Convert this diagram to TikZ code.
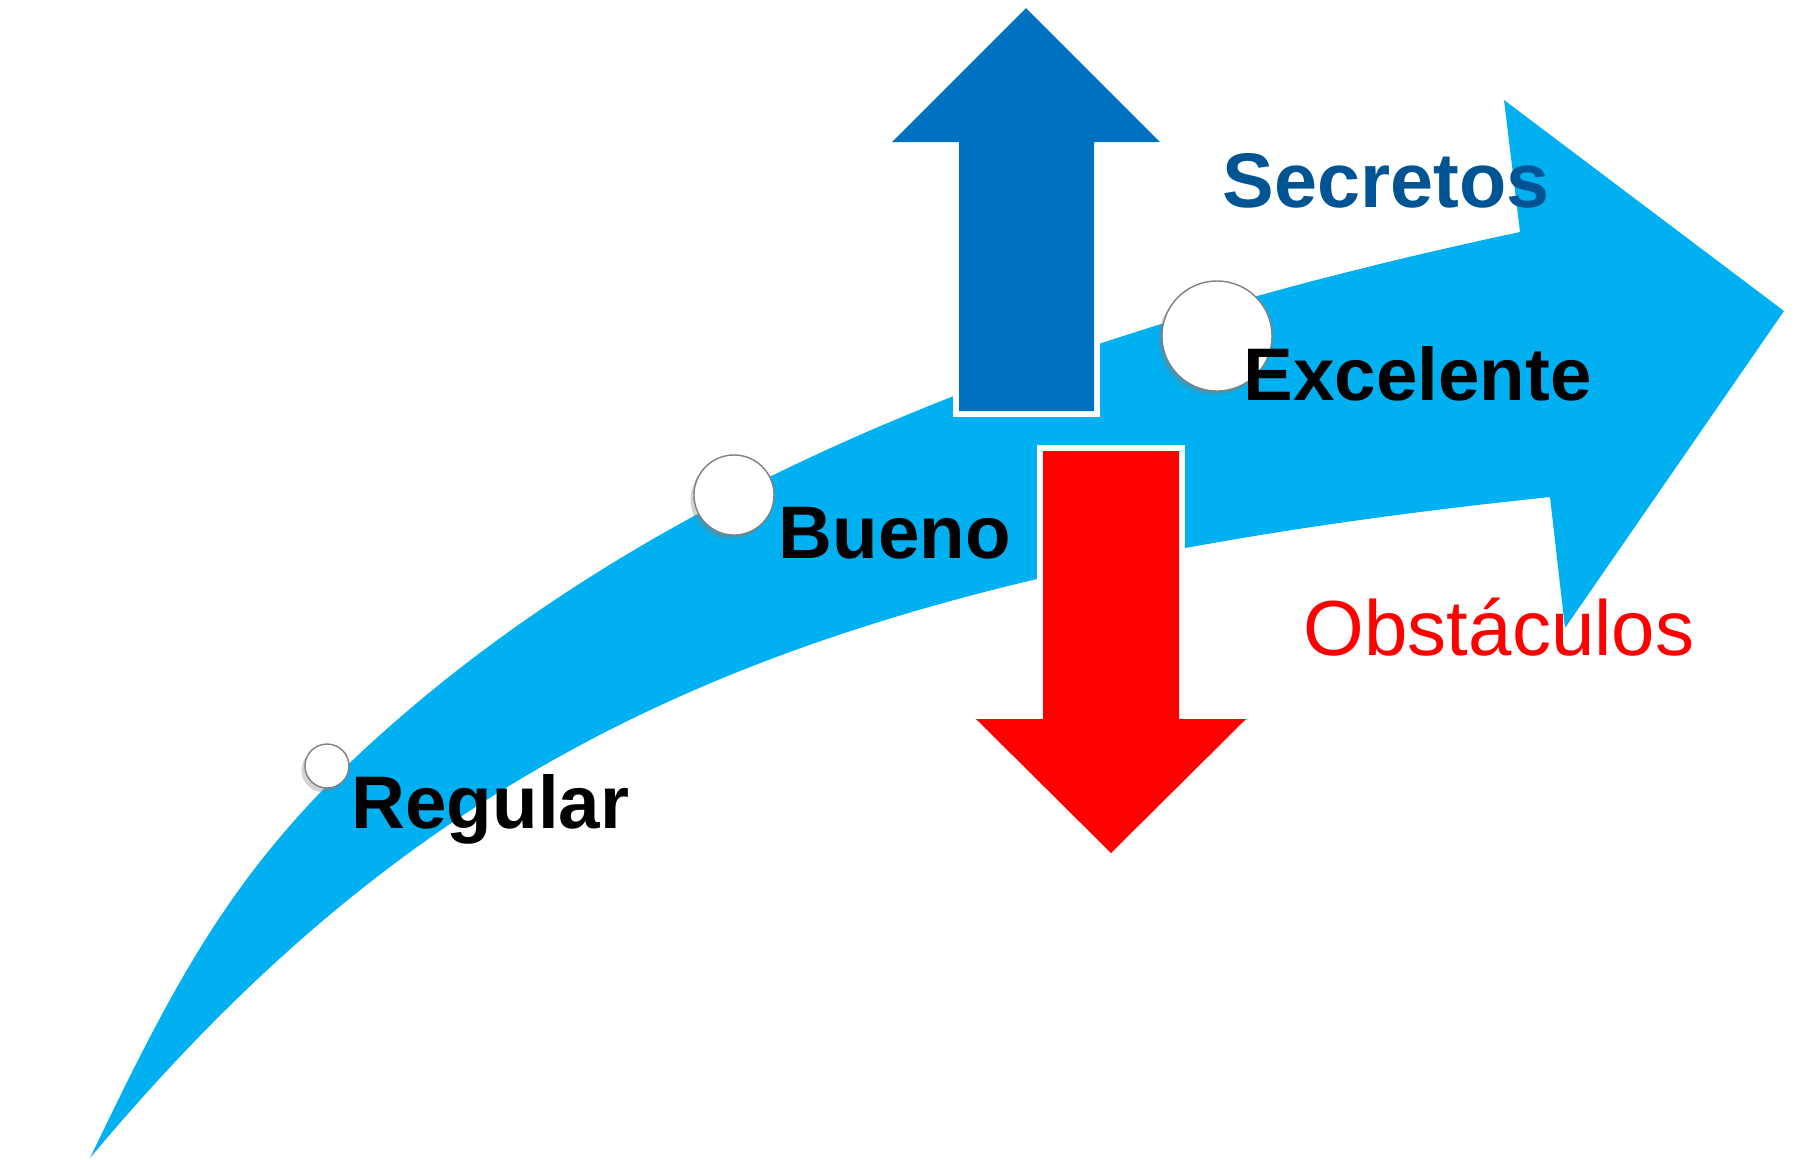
\documentclass[tikz,border=0pt]{standalone}
\usepackage{fontspec}
\setmainfont{Liberation Sans}
\usetikzlibrary{shadows}

\definecolor{roadblue}{RGB}{0,176,240}
\definecolor{upblue}{RGB}{0,112,192}
\definecolor{secretblue}{RGB}{0,84,147}

\begin{document}
\begin{tikzpicture}[x=0.01cm, y=-0.01cm]
    \tikzstyle{stage} = [circle, draw=gray, line width=0.4pt, fill=white, inner sep=0pt, drop shadow={shadow xshift=-1pt, shadow yshift=-1.2pt, opacity=0.35}]
    \tikzstyle{stagelabel} = [anchor=base west, inner sep=0pt, font=\fontsize{21.2}{25}\selectfont\bfseries]
    \tikzstyle{bigarrow} = [preaction={draw=white, line width=3.4pt}]

    \useasboundingbox (0,0) rectangle (1796,1159);

    % Curved road
    \fill[roadblue] (90,1158) .. controls (181,969) and (239,857) .. (397,720)
        .. controls (704,453) and (1122,317) .. (1520,232)
        -- (1504,100) -- (1784,311) -- (1565,628) -- (1550,497)
        .. controls (805,575) and (440,740) .. (90,1158) -- cycle;

    % Up and down arrows
    \fill[upblue, bigarrow] (1026,8) -- (1160,142) -- (1094,142) -- (1094,411)
        -- (959,411) -- (959,142) -- (892,142) -- cycle;
    \fill[red, bigarrow] (1111,853) -- (1246,719) -- (1179,719) -- (1179,451)
        -- (1043,451) -- (1043,719) -- (976,719) -- cycle;

    % Stages
    \node[stage, minimum size=0.44cm] (regular) at (327,766) {};
    \node[stage, minimum size=0.8cm] (bueno) at (734,495) {};
    \node[stage, minimum size=1.1cm] (excelente) at (1217,336) {};

    % Labels
    \node[stagelabel] (regulartext) at (351,828) {Regular};
    \node[stagelabel] (buenotext) at (778,558) {Bueno};
    \node[stagelabel] (excelentetext) at (1243,400) {Excelente};
    \node[stagelabel, text=secretblue, font=\fontsize{22}{26}\selectfont\bfseries] (secretos) at (1222,207) {Secretos};
    \node[stagelabel, text=red, font=\fontsize{22.2}{26}\selectfont] (obstaculos) at (1303,655) {Obstáculos};

\end{tikzpicture}
\end{document}
